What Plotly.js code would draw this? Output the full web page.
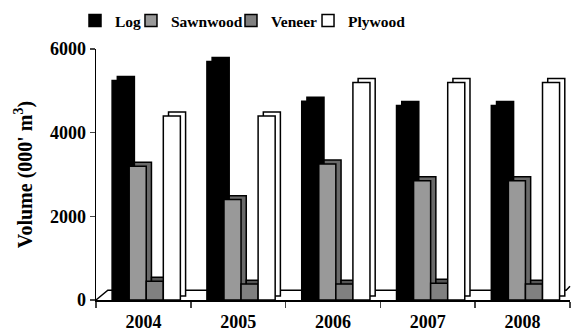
<!DOCTYPE html>
<html>
<head>
<meta charset="utf-8">
<script src="https://cdn.plot.ly/plotly-3.0.1.min.js"></script>
<style>html,body{margin:0;padding:0;background:#fff;}#chart{width:574px;height:333px;}</style>
</head>
<body>
<div id="chart"></div>
<script>
const years = ['2004', '2005', '2006', '2007', '2008'];
const seriesNames = ['Log', 'Sawnwood', 'Veneer', 'Plywood'];
const logVol = [5250, 5700, 4750, 4650, 4650];
const sawnwoodVol = [3200, 2400, 3250, 2850, 2850];
const veneerVol = [450, 380, 380, 400, 380];
const plywoodVol = [4400, 4400, 5200, 5200, 5200];
const yTicks = [0, 2000, 4000, 6000];

const FAM = 'Liberation Serif';
const frontColors = ['#000000', '#999999', '#808080', '#ffffff'];
const sideColors = ['#000000', '#6a6a6a', '#555555', '#ffffff'];
const values = [logVol, sawnwoodVol, veneerVol, plywoodVol];

// bar geometry (category units / y units) - styling only
const barW = 0.18;
const firstOffset = -0.33;
const depthX = 0.055;   // pseudo-3D depth, horizontal
const depthY = 95;      // pseudo-3D depth, vertical (value units)

const legendIds = ['legend', 'legend2', 'legend3', 'legend4'];
const traces = [];
values.forEach((vals, i) => {
  const off = firstOffset + i * barW;
  // depth (side/top face) of each bar
  traces.push({
    type: 'bar', x: years, y: vals, base: depthY,
    offset: off + depthX, width: barW,
    marker: {color: sideColors[i], line: {color: '#000', width: 1.5}},
    showlegend: false, hoverinfo: 'skip'
  });
  // front face
  traces.push({
    type: 'bar', name: seriesNames[i], x: years, y: vals,
    offset: off, width: barW,
    marker: {color: frontColors[i], line: {color: '#000', width: 1.5}},
    legend: legendIds[i], hoverinfo: 'x+y+name'
  });
});

const legendFont = {family: FAM, size: 15.5, color: '#000', weight: 'bold'};
const legendX = [-0.0443, 0.0738, 0.2848, 0.4473];
const mkLegend = (x) => ({
  orientation: 'h', x: x, xanchor: 'left', y: 1.112, yanchor: 'middle',
  font: legendFont, itemwidth: 30, bgcolor: 'rgba(0,0,0,0)', borderwidth: 0
});

const layout = {
  width: 574, height: 333,
  margin: {l: 96, r: 4, t: 44, b: 33},
  paper_bgcolor: '#fff', plot_bgcolor: '#fff',
  barmode: 'overlay',
  font: {family: FAM, size: 16, color: '#000', weight: 'bold'},
  showlegend: true,
  legend: mkLegend(legendX[0]),
  legend2: mkLegend(legendX[1]),
  legend3: mkLegend(legendX[2]),
  legend4: mkLegend(legendX[3]),
  xaxis: {
    type: 'category', tickson: 'boundaries', ticks: 'outside', ticklen: 6, tickwidth: 1.5,
    showline: true, linecolor: '#000', linewidth: 1.5, showgrid: false, zeroline: false,
    ticklabelstandoff: 5,
    tickfont: {family: FAM, size: 18, color: '#000', weight: 'bold'}
  },
  yaxis: {
    range: [0, 6000], tickvals: yTicks, ticktext: yTicks.map(String),
    ticks: 'outside', ticklen: 5, tickwidth: 1.5,
    showline: true, linecolor: '#000', linewidth: 1.5, showgrid: false, zeroline: false,
    tickfont: {family: FAM, size: 18, color: '#000', weight: 'bold'},
    title: {text: "\u00a0\u00a0\u00a0\u00a0\u00a0\u00a0\u00a0\u00a0Volume (000' m<sup>3</sup>)", standoff: 12,
            font: {family: FAM, size: 20, color: '#000', weight: 'bold'}}
  },
  shapes: [
    {type: 'path', xref: 'paper', yref: 'paper', layer: 'below',
     path: 'M 0 0 L 0.025 0.039 L 0.992 0.039 L 1.0 0.055',
     line: {color: '#000', width: 1.5}}
  ]
};

Plotly.newPlot('chart', traces, layout, {displayModeBar: false, staticPlot: true});
</script>
</body>
</html>
